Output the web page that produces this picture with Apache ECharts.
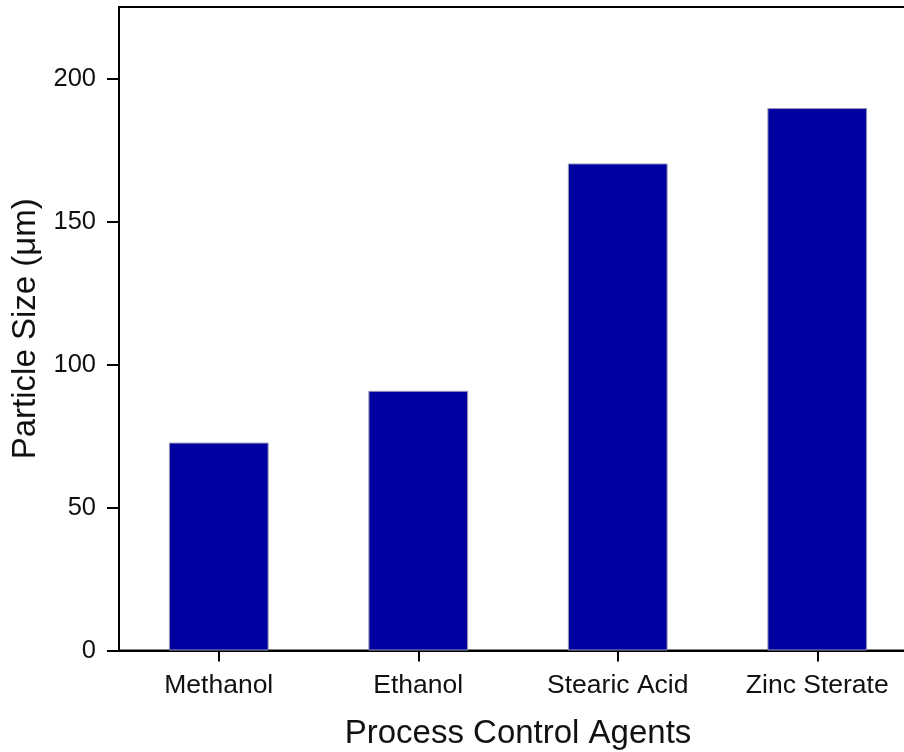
<!DOCTYPE html>
<html>
<head>
<meta charset="utf-8">
<script src="https://cdn.jsdelivr.net/npm/echarts@6/dist/echarts.min.js"></script>
<style>html,body{margin:0;padding:0;background:#fff;}#c{width:904px;height:752px;}</style>
</head>
<body>
<div id="c"></div>
<script>
const categories = ['Methanol', 'Ethanol', 'Stearic Acid', 'Zinc Sterate'];
const particleSize = [72.7, 90.8, 170.3, 189.7];
const yTicks = [0, 50, 100, 150, 200];
const xTitle = 'Process Control Agents';
const yTitle = 'Particle Size (μm)';

const FONT = '"Liberation Sans", Arial, sans-serif';
const chart = echarts.init(document.getElementById('c'), null, {renderer: 'canvas'});
chart.setOption({
  animation: false,
  backgroundColor: '#fff',
  grid: {
    left: 119, top: 7, width: 798, height: 643.5,
    containLabel: false,
    outerBoundsMode: 'none',
    show: true, borderColor: '#000', borderWidth: 2, backgroundColor: 'transparent'
  },
  xAxis: {
    type: 'category',
    data: categories,
    name: xTitle,
    nameLocation: 'middle',
    nameGap: 67,
    nameTextStyle: {fontFamily: FONT, fontSize: 33, color: '#111'},
    axisLine: {lineStyle: {color: '#000', width: 2}},
    axisTick: {show: true, alignWithLabel: true, length: 11, lineStyle: {color: '#000', width: 2}},
    axisLabel: {fontFamily: FONT, fontSize: 26.5, color: '#111', margin: 22}
  },
  yAxis: {
    type: 'value',
    min: 0, max: 225, interval: 50,
    name: yTitle,
    nameLocation: 'middle',
    nameGap: 65,
    nameTextStyle: {fontFamily: FONT, fontSize: 33, color: '#111'},
    axisLine: {show: true, lineStyle: {color: '#000', width: 2}},
    axisTick: {show: true, length: 12, lineStyle: {color: '#000', width: 2}, customValues: yTicks},
    axisLabel: {fontFamily: FONT, fontSize: 25.5, color: '#111', margin: 23, customValues: yTicks},
    splitLine: {show: false}
  },
  series: [{
    type: 'bar',
    data: particleSize,
    barWidth: '50%',
    itemStyle: {color: '#0000a0', borderColor: '#9a9ab8', borderWidth: 1}
  }]
});
</script>
</body>
</html>
